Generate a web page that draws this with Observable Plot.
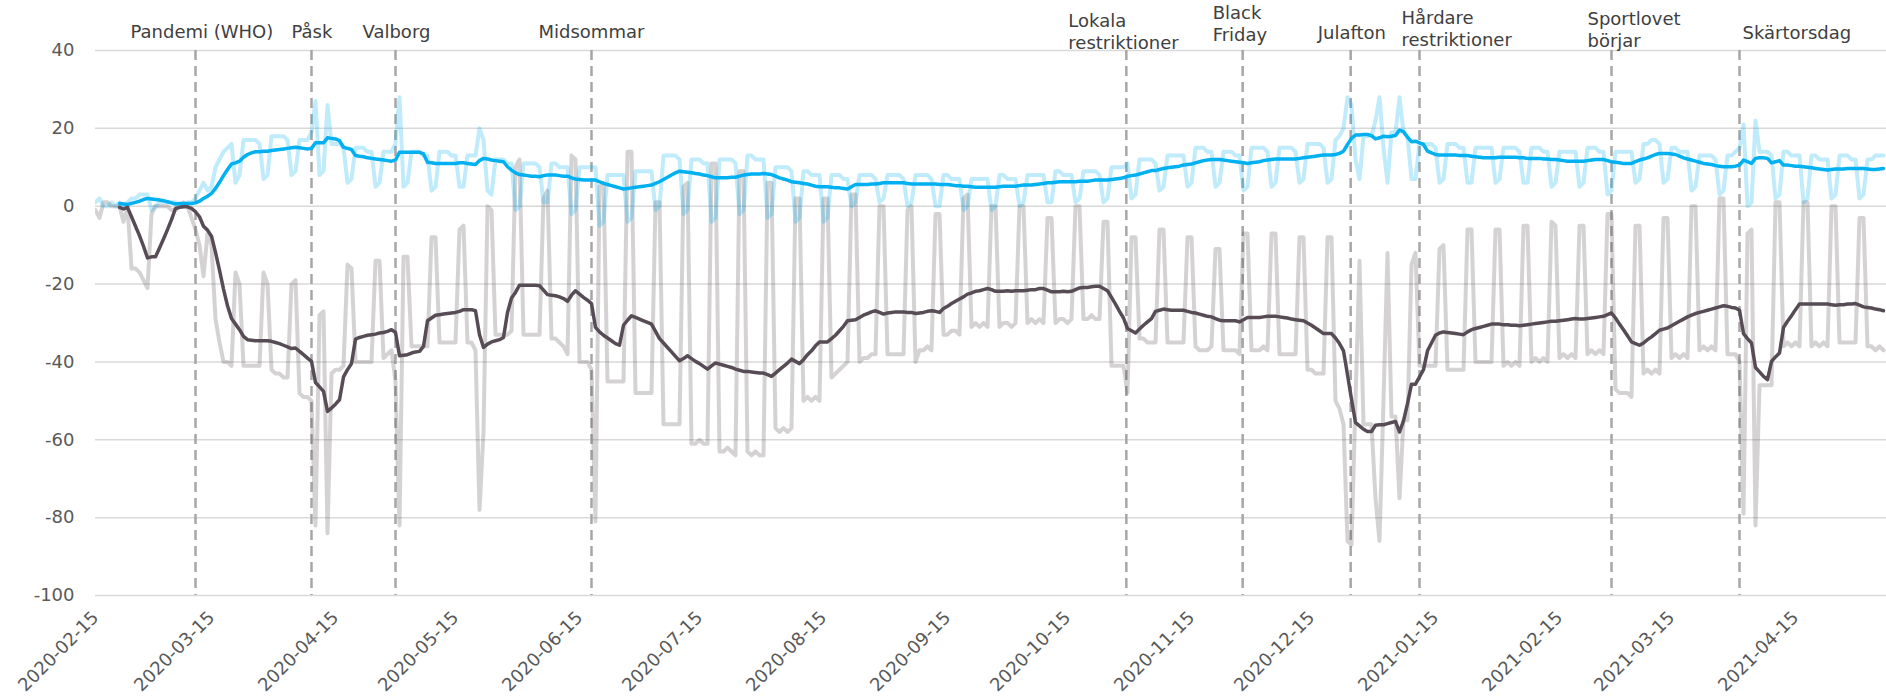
<!DOCTYPE html>
<html><head><meta charset="utf-8">
<script src="https://cdn.jsdelivr.net/npm/d3@7"></script>
<script src="https://cdn.jsdelivr.net/npm/@observablehq/plot@0.6"></script>
<style>
html,body{margin:0;padding:0;background:#fff;}
#chart svg{display:block}
g[aria-label^="x-axis"] text{font-size:18px;}
</style></head><body><div id="chart"></div>
<script>
// ---- data (daily values from 2020-02-15) ----
const startDate = "2020-02-15";
const workplaces = [
 -1, -3,
 1, 1, 0, 0, 0, -4, 0,
 -16, -16, -17, -19, -21, -2, 0,
 0, 0, 0, -1, -1, 0, 1,
 0, -3, -6, -10, -18, -7, -10,
 -29, -35, -40, -40, -41, -17, -20,
 -41, -41, -41, -41, -41, -17, -20,
 -42, -43, -43, -44, -44, -20, -19,
 -48, -49, -49, -50, -82, -28, -27,
 -84, -43, -42, -42, -41, -15, -16,
 -40, -40, -40, -40, -40, -14, -14,
 -39, -38, -37, -45, -82, -13, -13,
 -36, -36, -36, -36, -36, -8, -8,
 -35, -35, -35, -35, -35, -6, -5,
 -35, -35, -37, -78, -58, 0, -1,
 -33, -33, -33, -33, -32, 10, 12,
 -33, -33, -33, -33, -33, 2, 4,
 -34, -34, -35, -36, -38, 13, 12,
 -40, -40, -40, -42, -81, 5, 6,
 -45, -45, -45, -45, -45, 14, 14,
 -48, -48, -48, -48, -48, 1, 1,
 -56, -56, -56, -56, -56, 5, 6,
 -61, -61, -60, -61, -61, 11, 11,
 -63, -63, -62, -63, -64, 9, 9,
 -63, -64, -63, -64, -64, 6, 6,
 -57, -58, -57, -58, -57, 2, 2,
 -50, -49, -50, -49, -50, 2, 2,
 -44, -43, -42, -41, -40, 3, 3,
 -40, -39, -39, -38, -38, 0, 0,
 -38, -38, -38, -38, -38, -1, 0,
 -40, -37, -37, -36, -37, -2, -2,
 -33, -33, -32, -32, -33, 2, 3,
 -31, -30, -31, -30, -31, 0, 0,
 -31, -30, -30, -31, -30, 0, 0,
 -30, -29, -30, -29, -30, -3, -3,
 -30, -29, -29, -30, -29, 0, 0,
 -29, -29, -28, -29, -29, -4, -4,
 -41, -41, -41, -41, -48, -8, -8,
 -34, -34, -35, -35, -35, -6, -6,
 -35, -35, -35, -35, -35, -8, -8,
 -36, -37, -37, -37, -36, -11, -11,
 -37, -37, -37, -37, -38, -7, -7,
 -37, -37, -37, -36, -37, -7, -7,
 -38, -38, -38, -38, -38, -8, -8,
 -42, -42, -43, -43, -43, -8, -8,
 -50, -52, -56, -86, -87, -50, -14,
 -56, -56, -56, -75, -86, -50, -12,
 -54, -54, -75, -55, -55, -15, -12,
 -41, -41, -41, -41, -41, -11, -10,
 -42, -42, -42, -42, -42, -6, -6,
 -40, -40, -40, -40, -40, -6, -6,
 -41, -40, -41, -40, -41, -5, -5,
 -40, -39, -40, -39, -40, -4, -5,
 -39, -38, -39, -38, -39, -5, -5,
 -38, -37, -38, -37, -38, -2, -2,
 -47, -48, -48, -48, -49, -5, -5,
 -43, -42, -43, -42, -43, -3, -3,
 -39, -38, -39, -38, -39, 0, 0,
 -37, -36, -37, -36, -37, 2, 2,
 -38, -38, -38, -40, -79, -7, -6,
 -82, -46, -46, -46, -46, 1, 1,
 -36, -35, -36, -35, -36, 1, 1,
 -36, -35, -36, -35, -36, 0, 0,
 -35, -35, -35, -35, -35, -3, -3,
 -36, -36, -37, -36, -37
];
const residential = [
 1, 2,
 0, 0, 1, 0, 1, 0, 1,
 2, 2, 3, 3, 3, -1, 0,
 1, 1, 1, 1, 1, 0, 0,
 1, 1, 2, 4, 6, 4, 5,
 10, 12, 14, 15, 16, 6, 8,
 17, 17, 17, 17, 16, 7, 8,
 18, 18, 18, 18, 17, 8, 9,
 17, 17, 17, 19, 27, 8, 9,
 26, 16, 16, 16, 15, 6, 7,
 15, 15, 15, 14, 14, 5, 6,
 14, 14, 14, 16, 28, 5, 6,
 14, 14, 14, 13, 13, 4, 5,
 14, 14, 14, 13, 13, 5, 5,
 13, 13, 13, 20, 17, 4, 3,
 12, 12, 12, 11, 11, -1, 0,
 11, 11, 11, 11, 10, 1, 1,
 11, 11, 10, 10, 10, -2, -1,
 10, 10, 10, 10, 10, -5, -4,
 8, 8, 8, 8, 8, -4, -3,
 9, 9, 9, 9, 9, -1, 0,
 13, 13, 13, 13, 12, -2, -1,
 12, 12, 12, 11, 11, -4, -3,
 12, 12, 12, 12, 11, -2, -1,
 13, 13, 12, 12, 12, -3, -2,
 10, 10, 10, 10, 9, -4, -3,
 9, 9, 8, 8, 8, -4, -3,
 8, 8, 8, 7, 7, 0, 1,
 8, 8, 8, 8, 7, 1, 2,
 8, 8, 8, 8, 7, 0, 1,
 8, 8, 8, 8, 7, 0, 0,
 8, 8, 7, 7, 7, -1, 0,
 7, 7, 7, 7, 7, -1, 0,
 8, 8, 7, 7, 7, 0, 1,
 8, 8, 8, 8, 8, 1, 1,
 9, 9, 8, 8, 8, 1, 2,
 9, 9, 9, 9, 8, 1, 2,
 10, 10, 10, 10, 11, 2, 3,
 12, 12, 12, 12, 11, 4, 5,
 13, 13, 13, 13, 13, 5, 6,
 15, 15, 15, 14, 14, 5, 6,
 14, 14, 14, 13, 13, 4, 5,
 15, 15, 15, 15, 14, 5, 6,
 15, 15, 15, 15, 14, 6, 7,
 16, 16, 16, 16, 15, 6, 7,
 17, 18, 20, 28, 26, 12, 7,
 18, 18, 18, 22, 28, 15, 6,
 19, 19, 28, 19, 18, 7, 7,
 16, 16, 16, 16, 15, 6, 7,
 16, 16, 16, 15, 15, 6, 6,
 15, 15, 15, 15, 15, 6, 7,
 15, 15, 15, 15, 14, 6, 6,
 15, 15, 15, 14, 14, 5, 6,
 14, 14, 14, 14, 14, 5, 6,
 15, 15, 15, 14, 14, 3, 4,
 14, 14, 14, 14, 14, 6, 7,
 16, 16, 17, 17, 16, 6, 7,
 15, 15, 14, 14, 14, 4, 5,
 13, 13, 13, 13, 12, 3, 4,
 13, 13, 14, 15, 21, 0, 1,
 22, 14, 14, 14, 13, 2, 3,
 14, 14, 13, 13, 13, 1, 2,
 13, 13, 12, 12, 12, 2, 3,
 13, 13, 13, 12, 12, 2, 3,
 12, 12, 13, 13, 13
];
const eventDates = ["2020-03-11", "2020-04-09", "2020-04-30", "2020-06-18", "2020-10-29T17:00Z",
  "2020-11-27T19:00Z", "2020-12-24T19:00Z", "2021-01-11", "2021-02-28", "2021-04-01"];
const eventLabels = ["Pandemi (WHO)", "Påsk", "Valborg", "Midsommar", "Lokala\nrestriktioner",
  "Black\nFriday", "Julafton", "Hårdare\nrestriktioner", "Sportlovet\nbörjar", "Skärtorsdag"];
const xTickLabels = ["2020-02-15", "2020-03-15", "2020-04-15", "2020-05-15", "2020-06-15", "2020-07-15",
  "2020-08-15", "2020-09-15", "2020-10-15", "2020-11-15", "2020-12-15", "2021-01-15", "2021-02-15",
  "2021-03-15", "2021-04-15"];
const yTicks = [40, 20, 0, -20, -40, -60, -80, -100];

// ---- layout (not data) ----
const labelLayout = {
  "Pandemi (WHO)": {dx: -65, base: 37},
  "Påsk": {dx: -20, base: 37},
  "Valborg": {dx: -33, base: 37},
  "Midsommar": {dx: -53, base: 37},
  "Lokala\nrestriktioner": {dx: -58, base: 48},
  "Black\nFriday": {dx: -30, base: 40},
  "Julafton": {dx: -33, base: 38},
  "Hårdare\nrestriktioner": {dx: -18, base: 45},
  "Sportlovet\nbörjar": {dx: -24, base: 46},
  "Skärtorsdag": {dx: 3, base: 38}
};
const marginTop = 50;

// ---- build table ----
const parse = d3.utcParse("%Y-%m-%d");
const start = parse(startDate);
const table = workplaces.map((w, i) => ({date: d3.utcDay.offset(start, i), workplaces: w, residential: residential[i]}));
const events = eventDates.map((d, i) => ({date: new Date(d), label: eventLabels[i]}));
const xTicks = xTickLabels.map(parse);
const xEnd = d3.utcHour.offset(d3.utcDay.offset(start, 447), 18);

const chart = Plot.plot({
  width: 1886,
  height: 700,
  marginLeft: 95,
  marginRight: 0,
  marginTop: marginTop,
  marginBottom: 105,
  style: {fontFamily: "'DejaVu Sans', Verdana, sans-serif", fontSize: "18px", color: "#595959", background: "#fff"},
  x: {type: "utc", domain: [start, xEnd], ticks: xTicks, tickFormat: d3.utcFormat("%Y-%m-%d"),
      tickRotate: -45, tickSize: 0, tickPadding: 19, label: null},
  y: {domain: [-100, 40], ticks: yTicks, tickSize: 0, tickPadding: 21, tickFormat: d => String(d), label: null},
  marks: [
    Plot.ruleY(yTicks, {stroke: "#d9d9d9", strokeWidth: 1.5}),
    Plot.ruleX(events, {x: "date", stroke: "#a6a6a6", strokeWidth: 2.5, strokeDasharray: "10,6"}),
    Plot.lineY(table, {x: "date", y: "workplaces", stroke: "#574c55", strokeOpacity: 0.25, strokeWidth: 4, clip: true}),
    Plot.lineY(table, {x: "date", y: "residential", stroke: "#00b0f0", strokeOpacity: 0.25, strokeWidth: 4, clip: true}),
    Plot.lineY(table, Plot.windowY({k: 7, anchor: "end", strict: true},
      {x: "date", y: "residential", stroke: "#00b0f0", strokeWidth: 3.5, clip: true})),
    Plot.lineY(table, Plot.windowY({k: 7, anchor: "end", strict: true},
      {x: "date", y: "workplaces", stroke: "#574c55", strokeWidth: 3.5, clip: true})),
    ...events.map(e => Plot.text([e], {
      x: "date", text: "label", frameAnchor: "top", textAnchor: "start", lineAnchor: "bottom",
      lineHeight: 1.2, dx: labelLayout[e.label].dx, dy: labelLayout[e.label].base - marginTop,
      fill: "#404040", fontSize: 18
    }))
  ]
});
document.getElementById("chart").appendChild(chart);
</script></body></html>
